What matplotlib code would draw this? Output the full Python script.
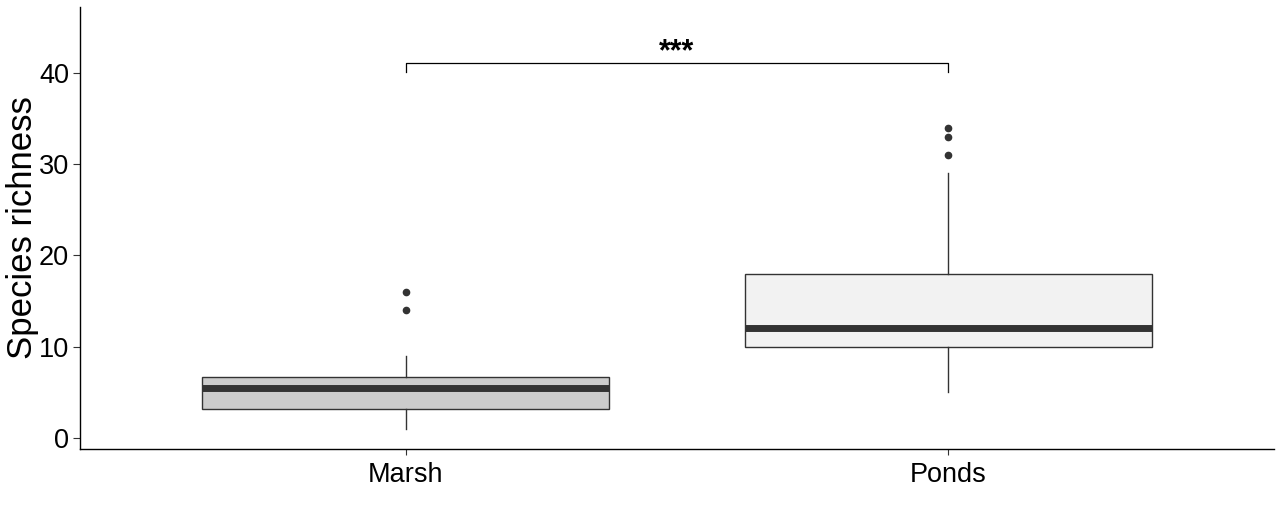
import matplotlib
matplotlib.use("Agg")
import matplotlib.pyplot as plt

plt.rcParams["font.family"] = ["Liberation Sans", "DejaVu Sans"]

# ----------------------------
# Data
# ----------------------------
groups = ["Marsh", "Ponds"]
q1 = [3.15, 10.0]
med = [5.5, 12.0]
q3 = [6.7, 18.0]
whislo = [1.0, 5.0]
whishi = [9.0, 29.0]
fliers = [[14.0, 16.0], [31.0, 33.0, 34.0]]
fills = ["#CCCCCC", "#F2F2F2"]
yticks = [0, 10, 20, 30, 40]
sig_y = 41.1
sig_label = "***"

stats = []
for i, g in enumerate(groups):
    stats.append({
        "label": g, "q1": q1[i], "med": med[i], "q3": q3[i],
        "whislo": whislo[i], "whishi": whishi[i], "fliers": fliers[i],
    })

fig = plt.figure(figsize=(12.82, 5.18), dpi=100)
ax = fig.add_axes([80 / 1282, 1 - 449 / 518, (1274 - 80) / 1282, (449 - 7) / 518])

pos = [1, 2]
bp = ax.bxp(stats, positions=pos, widths=0.75, patch_artist=True, showcaps=False,
            boxprops=dict(edgecolor="#333333", linewidth=1.0),
            medianprops=dict(color="#333333", linewidth=5, solid_capstyle="butt"),
            whiskerprops=dict(color="#333333", linewidth=1.0),
            flierprops=dict(marker="o", markerfacecolor="#333333", markeredgecolor="#333333",
                            markersize=4.5, linestyle="none"))
for patch, c in zip(bp["boxes"], fills):
    patch.set_facecolor(c)

# significance bracket
ax.plot([pos[0], pos[0], pos[1], pos[1]], [sig_y - 1.0, sig_y, sig_y, sig_y - 1.0],
        color="black", linewidth=0.9)
ax.text((pos[0] + pos[1]) / 2, sig_y + 0.3, sig_label, ha="center", va="baseline",
        fontsize=22, fontweight="bold")

ax.set_xlim(0.4, 2.6)
ax.set_ylim(-1.2, 47.2)
ax.set_yticks(yticks)
ax.set_xticks(pos)
ax.set_xticklabels(groups)
ax.set_ylabel("Species richness", fontsize=25, labelpad=0)
ax.tick_params(axis="both", labelsize=19.5, width=0.8, color="#333333")
ax.tick_params(axis="y", length=5, pad=3)
ax.tick_params(axis="x", length=4, pad=5)
for s in ["top", "right"]:
    ax.spines[s].set_visible(False)
for s in ["left", "bottom"]:
    ax.spines[s].set_linewidth(1.0)

fig.savefig("out.png", dpi=100)
